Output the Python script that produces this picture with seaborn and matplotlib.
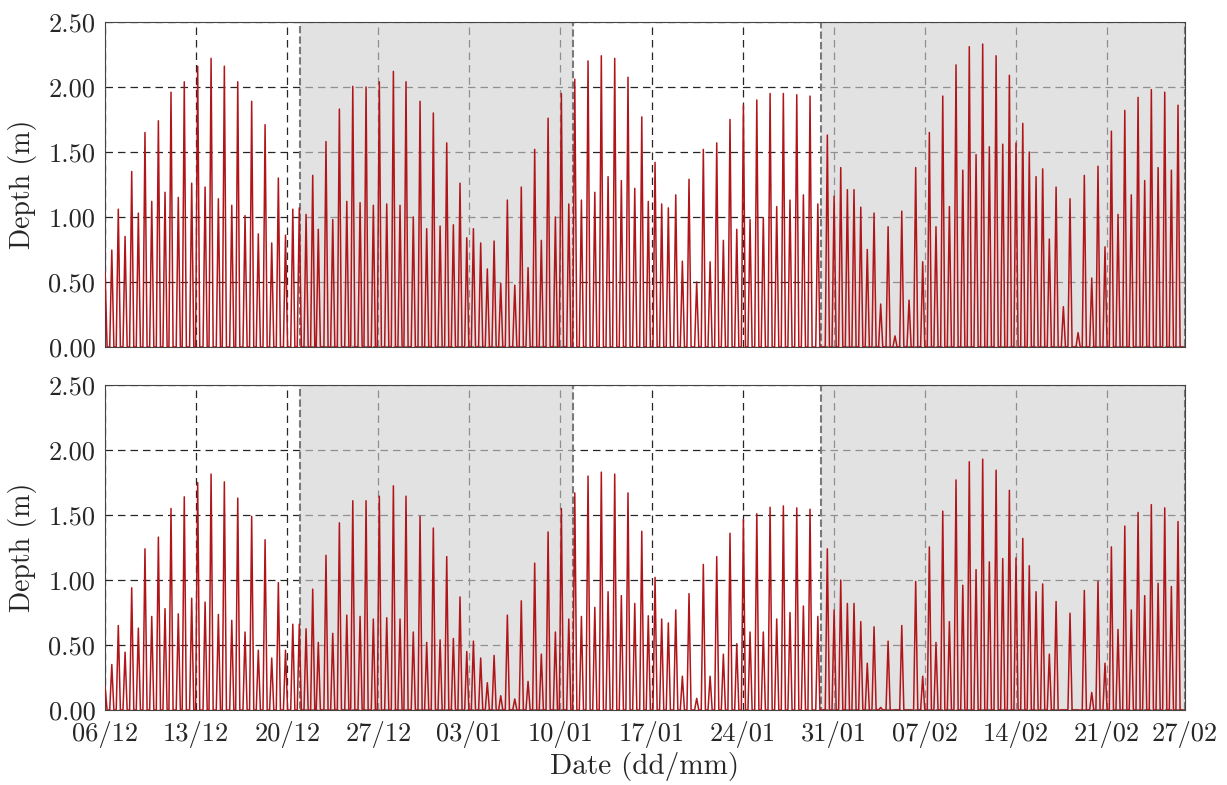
import numpy as np
import pandas as pd
import matplotlib
matplotlib.use("Agg")
import matplotlib.pyplot as plt
import matplotlib.dates as mdates
import seaborn as sns

# Times of high water (days after 06/12, 00:00)
peak_day = [
    0.52, 1.02, 1.54, 2.05, 2.56, 3.07, 3.59, 4.10, 4.61, 5.07,
    5.63, 6.09, 6.66, 7.12, 7.69, 8.15, 8.71, 9.17, 9.74, 10.20,
    10.76, 11.27, 11.78, 12.30, 12.81, 13.32, 13.87, 14.43, 14.93, 15.45,
    15.96, 16.39, 16.98, 17.50, 18.01, 18.58, 19.04, 19.60, 20.06, 20.62,
    21.08, 21.65, 22.16, 22.67, 23.13, 23.69, 24.21, 24.72, 25.23, 25.75,
    26.26, 26.77, 27.28, 27.80, 28.31, 28.87, 29.38, 29.90, 30.41, 30.92,
    31.49, 31.99, 32.51, 33.02, 33.53, 34.05, 34.61, 35.07, 35.64, 36.10,
    36.61, 37.12, 37.64, 38.14, 38.66, 39.17, 39.68, 40.19, 40.71, 41.25,
    41.75, 42.27, 42.78, 43.29, 43.86, 44.37, 44.88, 45.47, 45.98, 46.50,
    47.01, 47.52, 48.03, 48.55, 49.06, 49.57, 50.09, 50.59, 51.11, 51.62,
    52.13, 52.64, 53.16, 53.67, 54.18, 54.78, 55.51, 56.03, 56.54, 57.05,
    57.56, 58.08, 58.58, 59.10, 59.61, 60.18, 60.71, 61.23, 61.79, 62.30,
    62.84, 63.35, 63.86, 64.38, 64.89, 65.40, 65.92, 66.42, 66.94, 67.45,
    67.96, 68.48, 68.99, 69.50, 70.01, 70.53, 71.03, 71.55, 72.06, 72.57,
    73.09, 73.65, 74.16, 74.78, 75.26, 75.83, 76.31, 76.85, 77.34, 77.85,
    78.37, 78.87, 79.39, 79.90, 80.41, 80.93, 81.44, 81.95, 82.46,
]

# High-water depth (m), upper panel
depth_upper = [
    0.745, 1.06, 0.85, 1.35, 1.03, 1.65, 1.12, 1.74, 1.19, 1.96,
    1.15, 2.04, 1.26, 2.16, 1.23, 2.22, 1.14, 2.16, 1.09, 2.04,
    1.01, 1.89, 0.87, 1.71, 0.80, 1.30, 0.86, 1.06, 1.07, 1.02,
    1.32, 0.905, 1.58, 0.98, 1.83, 1.12, 2.005, 1.11, 2.00, 1.09,
    2.04, 1.10, 2.12, 1.09, 2.04, 1.00, 1.89, 0.91, 1.80, 0.93,
    1.57, 0.94, 1.26, 0.84, 0.91, 0.80, 0.60, 0.815, 0.49, 1.13,
    0.475, 1.23, 0.61, 1.52, 0.82, 1.76, 1.00, 1.95, 1.10, 2.06,
    1.13, 2.20, 1.19, 2.24, 1.31, 2.22, 1.28, 2.075, 1.22, 1.77,
    1.12, 1.42, 1.10, 1.07, 1.17, 0.66, 1.29, 0.50, 1.52, 0.655,
    1.57, 0.82, 1.75, 0.905, 1.86, 0.98, 1.90, 0.995, 1.95, 1.08,
    1.95, 1.13, 1.94, 1.17, 1.93, 1.10, 1.63, 1.16, 1.38, 1.21,
    1.21, 1.075, 0.75, 1.03, 0.33, 0.925, 0.085, 1.045, 0.36, 1.38,
    0.655, 1.65, 0.925, 1.93, 1.08, 2.17, 1.36, 2.31, 1.48, 2.33,
    1.54, 2.24, 1.56, 2.09, 1.57, 1.72, 1.50, 1.31, 1.37, 0.83,
    1.23, 0.31, 1.14, 0.11, 1.32, 0.53, 1.39, 0.77, 1.66, 1.02,
    1.82, 1.17, 1.92, 1.28, 1.98, 1.38, 1.96, 1.36, 1.86,
]

# High-water depth (m), lower panel
depth_lower = [
    0.35, 0.65, 0.445, 0.94, 0.63, 1.24, 0.72, 1.33, 0.78, 1.55,
    0.74, 1.64, 0.86, 1.75, 0.83, 1.815, 0.735, 1.755, 0.69, 1.63,
    0.60, 1.49, 0.46, 1.31, 0.40, 0.98, 0.46, 0.66, 0.66, 0.625,
    0.93, 0.52, 1.19, 0.59, 1.44, 0.73, 1.61, 0.72, 1.61, 0.70,
    1.645, 0.71, 1.725, 0.70, 1.645, 0.60, 1.49, 0.52, 1.40, 0.54,
    1.18, 0.55, 0.87, 0.45, 0.53, 0.40, 0.21, 0.42, 0.11, 0.73,
    0.085, 0.84, 0.22, 1.13, 0.43, 1.37, 0.60, 1.55, 0.70, 1.67,
    0.72, 1.80, 0.79, 1.83, 0.91, 1.815, 0.88, 1.67, 0.82, 1.375,
    0.725, 1.02, 0.70, 0.67, 0.77, 0.26, 0.895, 0.09, 1.12, 0.26,
    1.18, 0.43, 1.36, 0.51, 1.465, 0.60, 1.51, 0.60, 1.56, 0.70,
    1.57, 0.75, 1.555, 0.80, 1.545, 0.72, 1.24, 0.77, 1.00, 0.82,
    0.82, 0.68, 0.36, 0.64, 0.02, 0.53, 0.0, 0.65, 0.0, 0.99,
    0.26, 1.255, 0.52, 1.53, 0.68, 1.77, 0.96, 1.91, 1.08, 1.93,
    1.14, 1.845, 1.165, 1.69, 1.17, 1.32, 1.11, 0.91, 0.97, 0.43,
    0.835, 0.0, 0.745, 0.0, 0.92, 0.135, 0.99, 0.36, 1.255, 0.62,
    1.415, 0.77, 1.52, 0.88, 1.58, 0.975, 1.555, 0.95, 1.45,
]

# Depth at the first time step of each record
initial_depth = [0.58, 0.18]

# Highlighted periods (days after 06/12)
highlight_start = [15, 55]
highlight_end = [36, 83]

record_days = 83
tick_days = [0, 7, 14, 21, 28, 35, 42, 49, 56, 63, 70, 77, 83]
y_ticks = [0.0, 0.5, 1.0, 1.5, 2.0, 2.5]

t0 = pd.Timestamp("2015-12-06")
WET_HALF = 0.16  # half duration of a wet phase, days
RED = "#b01519"


def to_time(days):
    return t0 + pd.to_timedelta(np.asarray(days, dtype=float), unit="D")


def build_record(first, peaks):
    days = [0.0, WET_HALF]
    depth = [first, 0.0]
    for tp, h in zip(peak_day, peaks):
        days += [tp - WET_HALF, tp, tp + WET_HALF]
        depth += [0.0, h, 0.0]
    days.append(record_days)
    depth.append(0.0)
    return pd.DataFrame({"time": to_time(days), "depth": depth})


sns.set_style("white")
plt.rcParams.update({
    "font.family": "serif",
    "font.serif": ["cmr10", "DejaVu Serif"],
    "mathtext.fontset": "cm",
    "axes.unicode_minus": False,
    "axes.formatter.use_mathtext": True,
    "font.size": 19,
})

FS = 19

fig = plt.figure(figsize=(12.27, 7.85), dpi=100)
ax_top = fig.add_axes([0.0856, 0.558, 0.8802, 0.414])
ax_bot = fig.add_axes([0.0856, 0.0955, 0.8802, 0.414], sharex=ax_top)

for ax, first, peaks in ((ax_top, initial_depth[0], depth_upper),
                         (ax_bot, initial_depth[1], depth_lower)):
    df = build_record(first, peaks)
    ax.set_axisbelow(True)
    ax.grid(True, color="0.15", linestyle=(0, (6, 4)), linewidth=0.9)
    for s, e in zip(highlight_start, highlight_end):
        ax.axvspan(to_time(s), to_time(e), facecolor=(0.82, 0.82, 0.82, 0.62),
                   edgecolor="#7a7a7a", linestyle=(0, (3.5, 1.5)),
                   linewidth=1.5, zorder=1)
    sns.lineplot(data=df, x="time", y="depth", ax=ax, color=RED,
                 linewidth=1.1, estimator=None, sort=False, zorder=3)
    ax.set_ylim(0, 2.5)
    ax.set_yticks(y_ticks)
    ax.yaxis.set_major_formatter(matplotlib.ticker.FormatStrFormatter("%.2f"))
    ax.set_ylabel("Depth (m)", fontsize=FS + 1, labelpad=8)
    ax.tick_params(axis="both", length=0, labelsize=FS)
    ax.tick_params(axis="y", pad=7)
    ax.tick_params(axis="x", pad=8)
    for sp in ax.spines.values():
        sp.set_color("#444444")
        sp.set_linewidth(0.8)

ax_bot.set_xlim(to_time(0), to_time(record_days))
ax_bot.set_xticks(to_time(tick_days))
ax_bot.xaxis.set_major_formatter(mdates.DateFormatter("%d/%m"))
ax_top.tick_params(axis="x", labelbottom=False)
ax_top.set_xlabel("")
ax_bot.set_xlabel("Date (dd/mm)", fontsize=FS + 2, labelpad=3)

fig.savefig("out.png", dpi=100)
